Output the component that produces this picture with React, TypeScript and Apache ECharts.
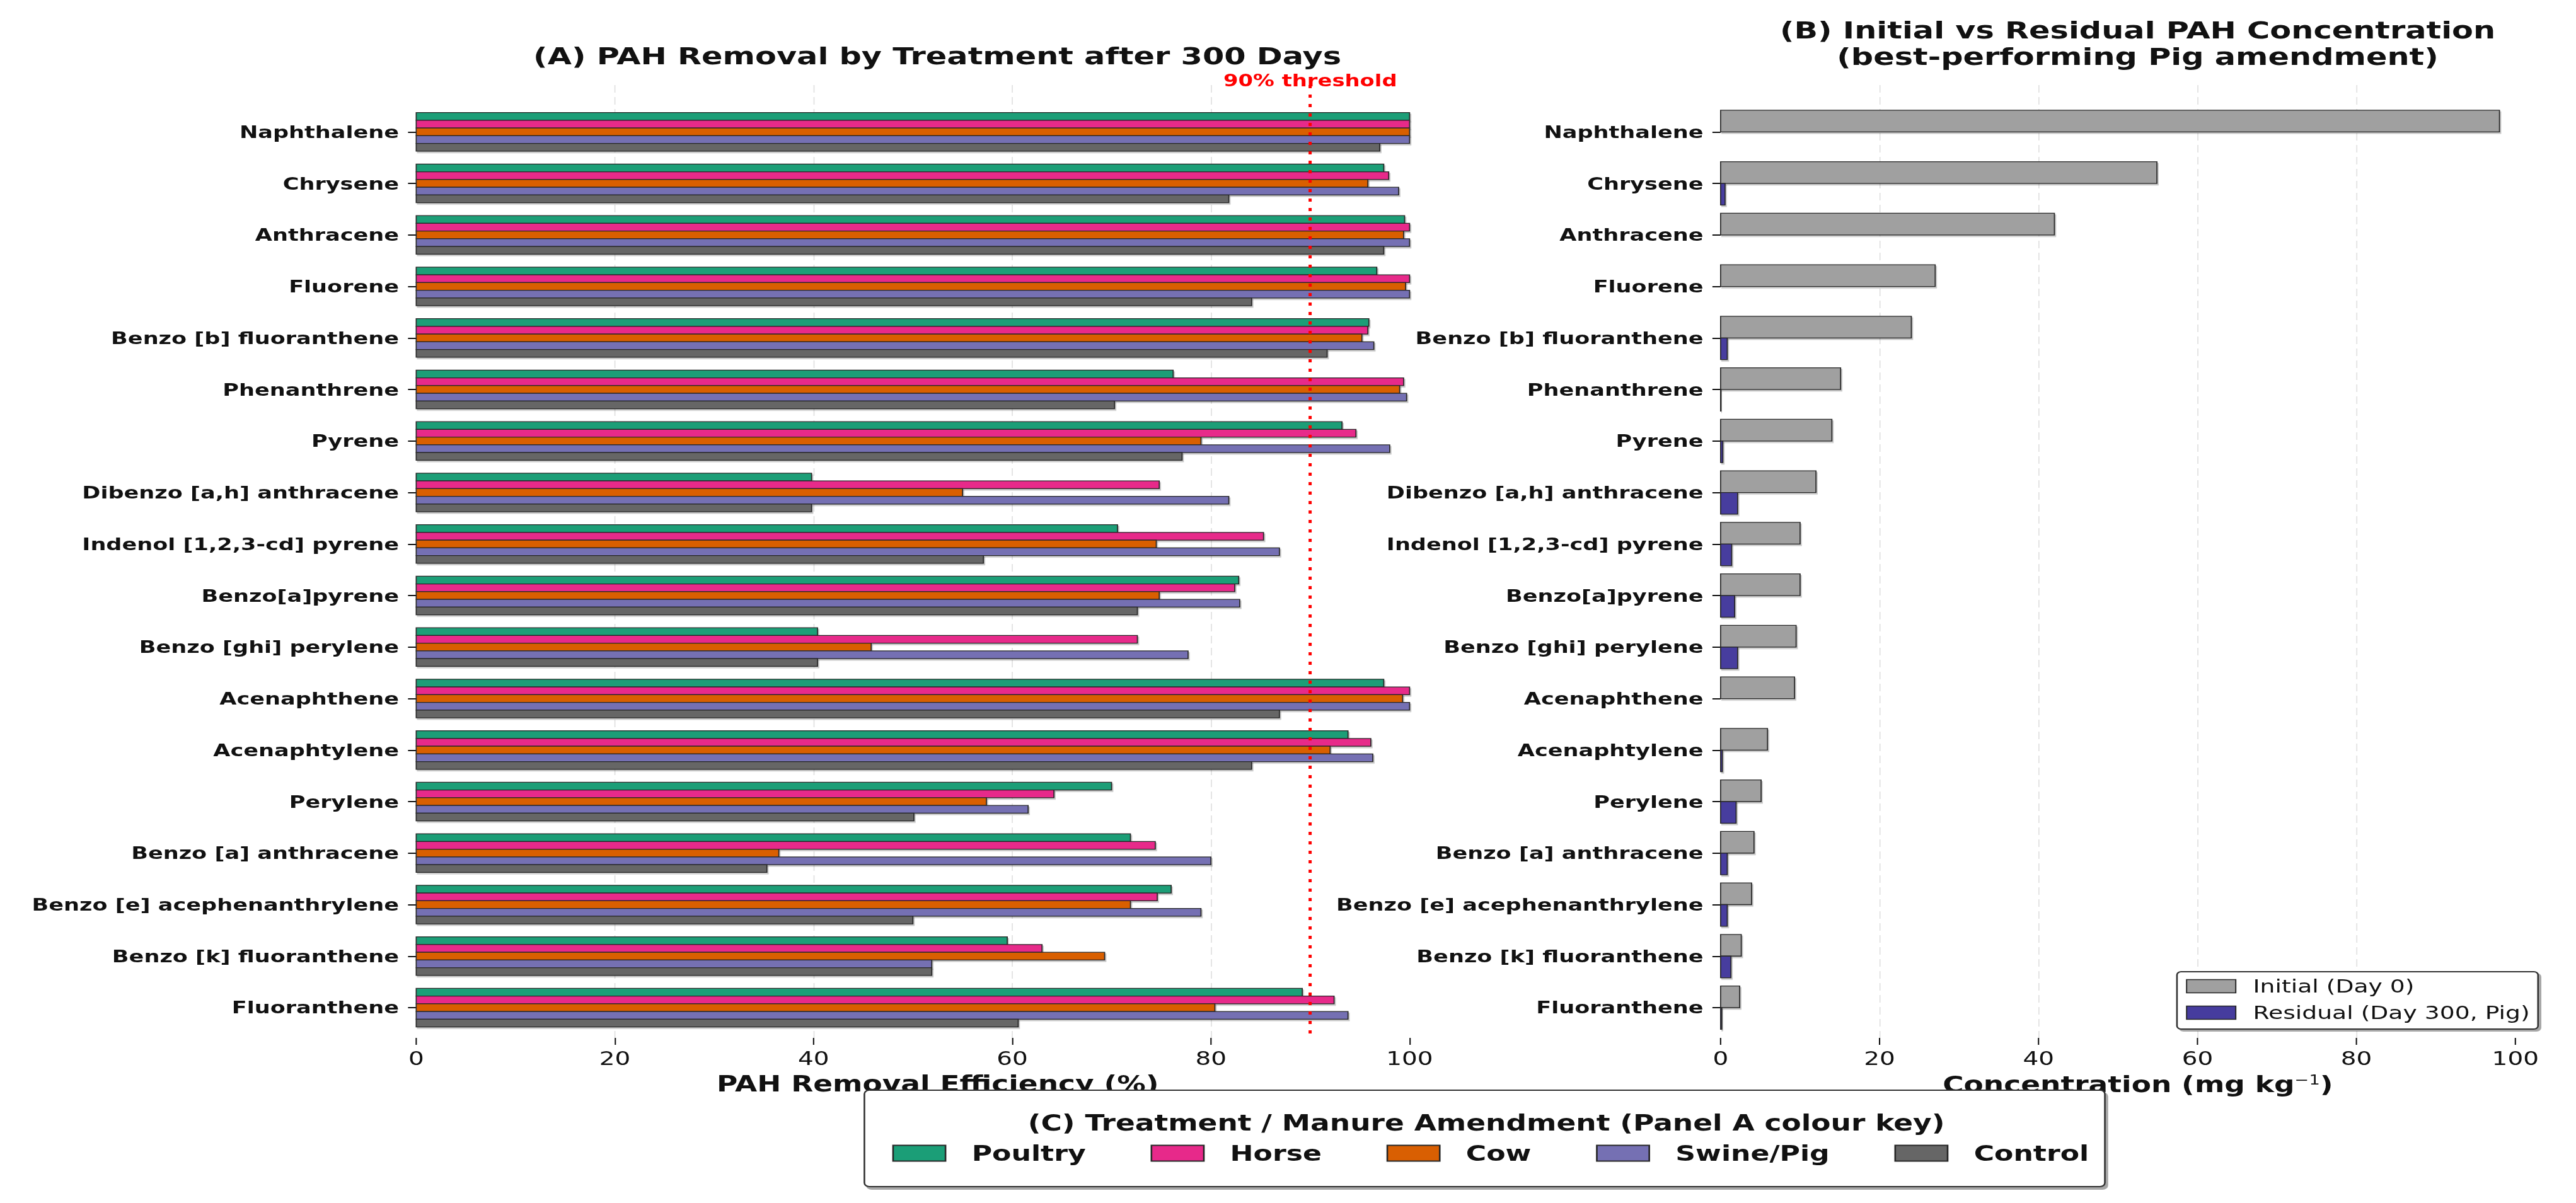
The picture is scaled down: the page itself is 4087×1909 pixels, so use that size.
import React, { useEffect, useRef } from 'react';
import * as echarts from 'echarts';

// ---------------- data ----------------
const categories = [
  'Naphthalene', 'Chrysene', 'Anthracene', 'Fluorene', 'Benzo [b] fluoranthene',
  'Phenanthrene', 'Pyrene', 'Dibenzo [a,h] anthracene', 'Indenol [1,2,3-cd] pyrene',
  'Benzo[a]pyrene', 'Benzo [ghi] perylene', 'Acenaphthene', 'Acenaphtylene', 'Perylene',
  'Benzo [a] anthracene', 'Benzo [e] acephenanthrylene', 'Benzo [k] fluoranthene', 'Fluoranthene',
];

const treatmentNames = ['Poultry', 'Horse', 'Cow', 'Swine/Pig', 'Control'];
const poultry = [100, 97.4, 99.5, 96.7, 95.9, 76.2, 93.2, 39.8, 70.6, 82.8, 40.4, 97.4, 93.8, 70.0, 71.9, 76.0, 59.5, 89.2];
const horse = [100, 97.9, 100, 100, 95.8, 99.4, 94.6, 74.8, 85.3, 82.4, 72.6, 100, 96.1, 64.2, 74.4, 74.6, 63.0, 92.4];
const cow = [100, 95.8, 99.4, 99.6, 95.2, 99.0, 79.0, 55.0, 74.5, 74.8, 45.8, 99.3, 92.0, 57.4, 36.5, 71.9, 69.3, 80.4];
const swine = [100, 98.9, 100, 100, 96.4, 99.7, 98.0, 81.8, 86.9, 82.9, 77.7, 100, 96.3, 61.6, 80.0, 79.0, 51.9, 93.8];
const control = [97.0, 81.8, 97.4, 84.1, 91.7, 70.3, 77.1, 39.8, 57.1, 72.6, 40.4, 86.9, 84.1, 50.1, 35.3, 50.0, 51.9, 60.6];

const concNames = ['Initial (Day 0)', 'Residual (Day 300, Pig)'];
const initialConc = [98.0, 54.9, 42.0, 27.0, 24.0, 15.1, 14.0, 12.0, 10.0, 10.0, 9.5, 9.3, 5.9, 5.1, 4.2, 3.9, 2.6, 2.4];
const residualConc = [0, 0.56, 0, 0, 0.84, 0.05, 0.28, 2.14, 1.39, 1.77, 2.14, 0, 0.22, 1.95, 0.84, 0.84, 1.3, 0.15];

const xTicks = [0, 20, 40, 60, 80, 100];
const threshold = 90;

// ---------------- styling ----------------
const W = 4087;
const H = 1909;
const SX = 1.3;
const W0 = Math.round(W / SX);
const FONT = 'DejaVu Sans';
const treatmentColors = ['#1b9e77', '#e7298a', '#d95f02', '#7570b3', '#666666'];
const concColors = ['#a0a0a0', '#463c9e'];
const EDGE = '#262626';
const Y_MIN = -0.909;
const Y_MAX = 17.587;
const BAR_A = 0.15;
const BAR_B = 0.42;
const idxs = categories.map((_, i) => i);

const shadow = {
  shadowColor: 'rgba(0,0,0,0.22)',
  shadowOffsetX: 1.5,
  shadowOffsetY: 2.5,
  shadowBlur: 1,
};

function barRender(offset: number, thick: number, color: string) {
  return (params: any, api: any) => {
    const v = api.value(0);
    const i = api.value(1);
    const y = i + offset;
    const p0 = api.coord([0, y]);
    const p1 = api.coord([v, y]);
    const h = api.size([0, thick])[1];
    return {
      type: 'rect',
      shape: { x: p0[0], y: p0[1] - h / 2, width: Math.max(0, p1[0] - p0[0]), height: h },
      style: { fill: color, stroke: EDGE, lineWidth: 1.3, ...shadow },
    };
  };
}

function yAxisDef(gridIndex: number) {
  return {
    type: 'value',
    gridIndex,
    min: Y_MIN,
    max: Y_MAX,
    inverse: true,
    axisLine: { show: true, onZero: false, lineStyle: { color: '#111', width: 2.5, ...shadow } },
    axisTick: { show: true, length: 10, customValues: idxs, lineStyle: { color: '#111', width: 2 } },
    axisLabel: {
      customValues: idxs,
      formatter: (v: number) => categories[Math.round(v)] ?? '',
      margin: 21,
      fontSize: 27,
      fontWeight: 'bold',
      color: '#111',
      fontFamily: FONT,
    },
    splitLine: { show: false },
  };
}

function xAxisDef(gridIndex: number, name: any, nameGap: number, rich?: any) {
  return {
    type: 'value',
    gridIndex,
    min: 0,
    max: 105,
    interval: 20,
    axisLine: { show: true, onZero: false, lineStyle: { color: '#111', width: 2.5, ...shadow } },
    axisTick: { show: true, length: 11, customValues: xTicks, lineStyle: { color: '#111', width: 1.6 } },
    axisLabel: { customValues: xTicks, margin: 18, fontSize: 30, color: '#111', fontFamily: FONT },
    splitLine: {
      show: true,
      showMinLine: false,
      showMaxLine: false,
      lineStyle: { color: '#dedede', type: [12, 7], width: 1.2 },
    },
    name,
    nameLocation: 'middle',
    nameGap,
    nameTextStyle: { fontSize: 35, fontWeight: 'bold', color: '#111', fontFamily: FONT, rich },
  };
}

const treatmentValues = [poultry, horse, cow, swine, control];
const concValues = [initialConc, residualConc];

const seriesA = treatmentValues.map((vals, j) => ({
  type: 'custom',
  name: treatmentNames[j],
  xAxisIndex: 0,
  yAxisIndex: 0,
  z: 3,
  itemStyle: { color: treatmentColors[j], borderColor: EDGE, borderWidth: 1.3 },
  encode: { x: 0, y: 1 },
  data: vals.map((v, i) => [v, i]),
  renderItem: barRender((j - 2) * BAR_A, BAR_A, treatmentColors[j]),
}));

const seriesB = concValues.map((vals, j) => ({
  type: 'custom',
  name: concNames[j],
  xAxisIndex: 1,
  yAxisIndex: 1,
  z: 3,
  itemStyle: { color: concColors[j], borderColor: EDGE, borderWidth: 1.3 },
  encode: { x: 0, y: 1 },
  data: vals.map((v, i) => [v, i]),
  renderItem: barRender(j === 0 ? -BAR_B / 2 : BAR_B / 2, BAR_B, concColors[j]),
}));

const thresholdSeries = {
  type: 'line',
  name: '__threshold',
  xAxisIndex: 0,
  yAxisIndex: 0,
  data: [],
  z: 5,
  markLine: {
    silent: true,
    symbol: ['none', 'none'],
    animation: false,
    lineStyle: { color: '#ff0000', width: 3.8, type: [5, 10] },
    label: {
      show: true,
      position: 'start',
      formatter: '90% threshold',
      color: '#ff0000',
      fontWeight: 'bold',
      fontSize: 26,
      fontFamily: FONT,
      distance: -6,
    },
    data: [[{ coord: [threshold, Y_MIN] }, { coord: [threshold, Y_MAX] }]],
  },
};

const option = {
  animation: false,
  backgroundColor: '#ffffff',
  textStyle: { fontFamily: FONT },
  title: [
    {
      text: '(A) PAH Removal by Treatment after 300 Days',
      left: 1144,
      top: 67,
      textAlign: 'center',
      padding: 0,
      textStyle: { fontSize: 38, fontWeight: 'bold', color: '#111', lineHeight: 44, fontFamily: FONT },
    },
    {
      text: '(B) Initial vs Residual PAH Concentration\n(best-performing Pig amendment)',
      left: 2609,
      top: 27,
      textAlign: 'center',
      padding: 0,
      textStyle: { fontSize: 38, fontWeight: 'bold', color: '#111', lineHeight: 42, fontFamily: FONT },
    },
    {
      text: '(C) Treatment / Manure Amendment (Panel A colour key)',
      left: 1814,
      top: 1762,
      textAlign: 'center',
      padding: 0,
      z: 10,
      textStyle: { fontSize: 35, fontWeight: 'bold', color: '#111', lineHeight: 40, fontFamily: FONT },
    },
  ],
  grid: [
    { left: 508, right: W0 - 1781, top: 135, bottom: H - 1647 },
    { left: 2100, right: W0 - 3118.5, top: 135, bottom: H - 1647 },
  ],
  xAxis: [
    xAxisDef(0, 'PAH Removal Efficiency (%)', 55),
    xAxisDef(1, 'Concentration (mg kg{sup|−1})', 56, {
      sup: { fontSize: 21, fontWeight: 'normal', color: '#111', verticalAlign: 'top', fontFamily: FONT },
    }),
  ],
  yAxis: [yAxisDef(0), yAxisDef(1)],
  legend: [
    {
      data: treatmentNames.map((n, j) => ({
        name: n,
        itemStyle: { color: treatmentColors[j], borderColor: EDGE, borderWidth: 2 },
      })),
      orient: 'horizontal',
      left: 1089,
      top: 1810,
      padding: 0,
      z: 10,
      icon: 'rect',
      itemWidth: 64,
      itemHeight: 25,
      itemGap: 79,
      selectedMode: false,
      textStyle: {
        fontSize: 34,
        fontWeight: 'bold',
        color: '#111',
        fontFamily: FONT,
        lineHeight: 40,
        padding: [0, 0, 0, 27],
      },
    },
    {
      data: concNames.map((n, j) => ({
        name: n,
        itemStyle: { color: concColors[j], borderColor: EDGE, borderWidth: 1.5 },
      })),
      orient: 'vertical',
      left: 2657,
      top: 1542,
      padding: [6, 10, 9, 11],
      z: 10,
      icon: 'rect',
      itemWidth: 60,
      itemHeight: 21,
      itemGap: 8,
      selectedMode: false,
      backgroundColor: '#ffffff',
      borderColor: '#333333',
      borderWidth: 2,
      borderRadius: 5,
      shadowColor: 'rgba(0,0,0,0.35)',
      shadowOffsetX: 3,
      shadowOffsetY: 3,
      shadowBlur: 0,
      textStyle: {
        fontSize: 29,
        color: '#111',
        fontFamily: FONT,
        lineHeight: 34,
        padding: [0, 0, 0, 16],
      },
    },
  ],
  graphic: [
    {
      type: 'rect',
      z: 8,
      shape: { x: 1055, y: 1730, width: 1514, height: 153, r: 6 },
      style: {
        fill: '#ffffff',
        stroke: '#333333',
        lineWidth: 2,
        shadowColor: 'rgba(0,0,0,0.35)',
        shadowOffsetX: 3,
        shadowOffsetY: 4,
        shadowBlur: 0,
      },
    },
  ],
  series: [...seriesA, ...seriesB, thresholdSeries],
};

export default function App() {
  const ref = useRef<HTMLDivElement | null>(null);
  useEffect(() => {
    if (!ref.current) return;
    const chart = echarts.init(ref.current, null, { renderer: 'svg' });
    chart.setOption(option as any);
    return () => {
      chart.dispose();
    };
  }, []);
  return (
    <div
      style={{
        position: 'fixed',
        left: 0,
        top: 0,
        width: W,
        height: H,
        overflow: 'hidden',
        background: '#ffffff',
      }}
    >
      <div
        ref={ref}
        style={{ width: W0, height: H, transform: `scaleX(${W / W0})`, transformOrigin: '0 0' }}
      />
    </div>
  );
}
